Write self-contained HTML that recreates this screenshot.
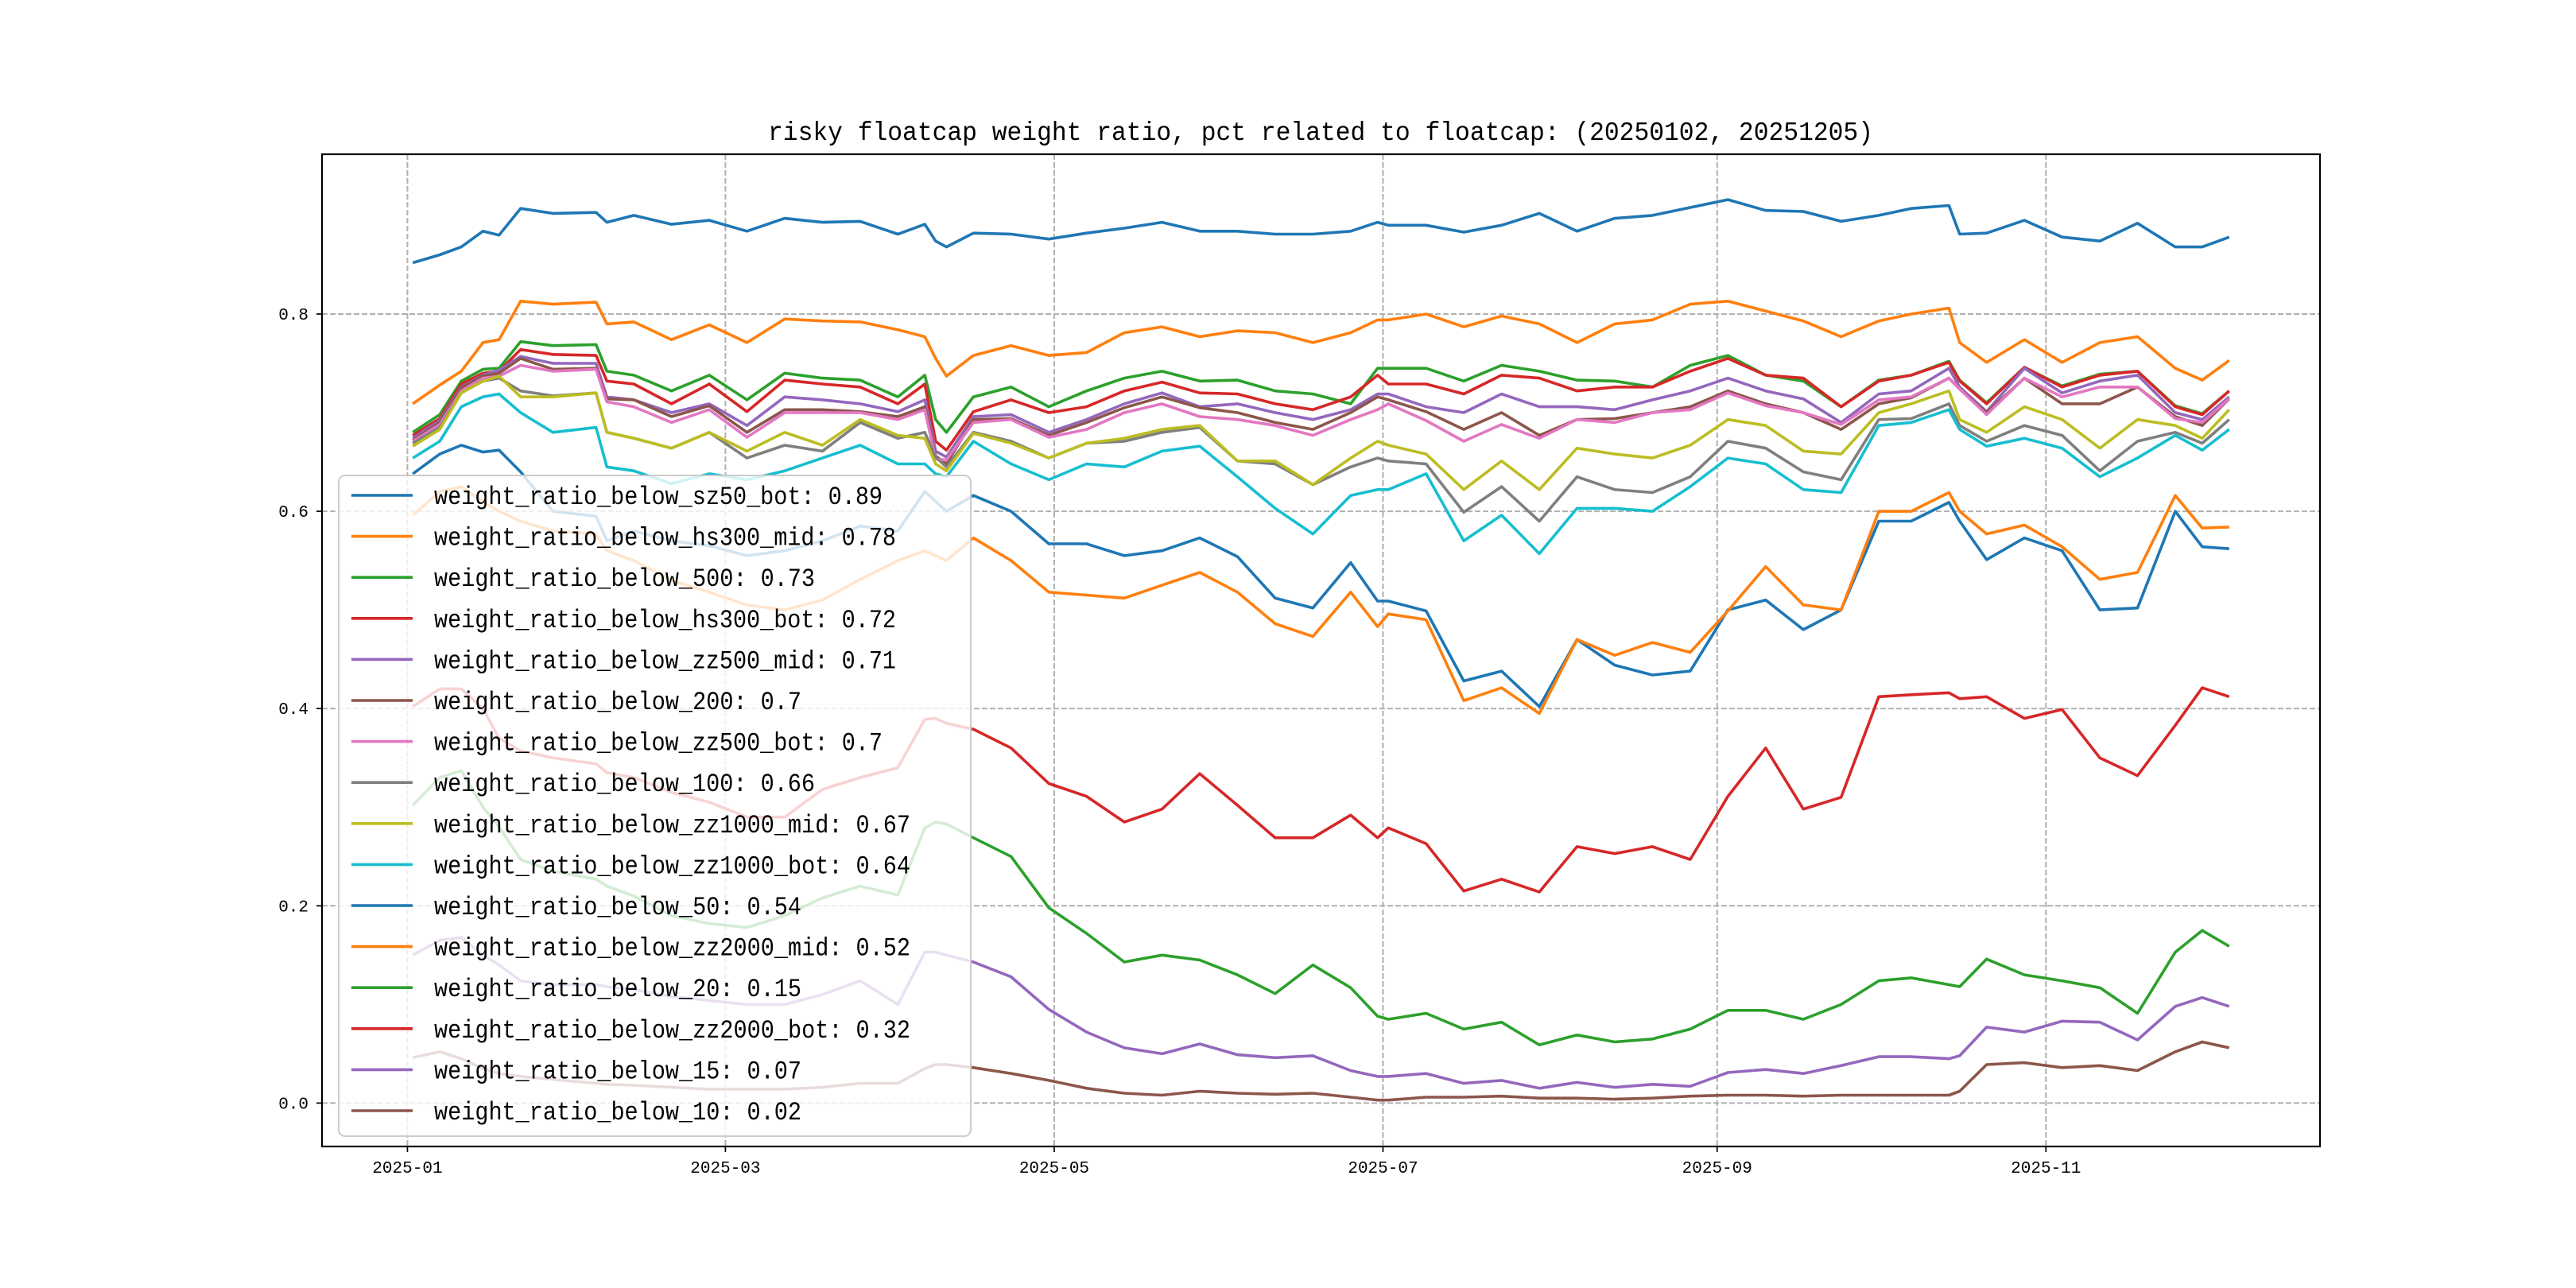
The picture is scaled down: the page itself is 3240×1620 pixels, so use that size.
<!DOCTYPE html>
<html><head><meta charset="utf-8"><title>risky floatcap weight ratio</title>
<style>
html,body{margin:0;padding:0;background:#fff;}
svg{display:block;}
text{font-family:"Liberation Mono","Noto Sans CJK SC",monospace;}
</style></head>
<body>
<svg id="chart" width="3240" height="1620" viewBox="0 0 3240 1620" xmlns="http://www.w3.org/2000/svg">
<rect x="0" y="0" width="3240" height="1620" fill="#fff"/>
<text x="1661" y="176" font-size="33" text-anchor="middle" textLength="1390" lengthAdjust="spacingAndGlyphs">risky floatcap weight ratio, pct related to floatcap: (20250102, 20251205)</text>
<g id="grid"></g>
<g id="series"></g>
<rect x="405" y="194" width="2513" height="1248" fill="none" stroke="#000" stroke-width="2.2"/>
<g id="ticks"></g>
<g id="legend"></g>
</svg>
<script>
// day offsets from 2025-01-01
const dates = [1,6,10,14,17,21,27,35,37,42, 49,56,63,70,77,84,91,96,98,100, 105,112,119,126,133,140,147,154,161,168, 175,180,182,189,196,203,210,217,224,231, 238,245,252,259,266,273,279,286,288,293, 300,307,314,321,328,333,338];
const seriesNames = ["weight_ratio_below_sz50_bot","weight_ratio_below_hs300_mid","weight_ratio_below_500","weight_ratio_below_hs300_bot","weight_ratio_below_zz500_mid","weight_ratio_below_200","weight_ratio_below_zz500_bot","weight_ratio_below_100","weight_ratio_below_zz1000_mid","weight_ratio_below_zz1000_bot","weight_ratio_below_50","weight_ratio_below_zz2000_mid","weight_ratio_below_20","weight_ratio_below_zz2000_bot","weight_ratio_below_15","weight_ratio_below_10"];
const legendValues = ["0.89","0.78","0.73","0.72","0.71","0.7","0.7","0.66","0.67","0.64","0.54","0.52","0.15","0.32","0.07","0.02"];
const colors = ["#1f77b4","#ff7f0e","#2ca02c","#d62728","#9467bd","#8c564b","#e377c2","#7f7f7f","#bcbd22","#17becf","#1f77b4","#ff7f0e","#2ca02c","#d62728","#9467bd","#8c564b"];
const sz50Bot = [.852,.86,.868,.884,.88,.907,.902,.903,.893,.9, .891,.895,.884,.897,.893,.894,.881,.891,.874,.868, .882,.881,.876,.882,.887,.893,.884,.884,.881,.881, .884,.893,.89,.89,.883,.89,.902,.884,.897,.9, .908,.916,.905,.904,.894,.9,.907,.91,.881,.882, .895,.878,.874,.892,.868,.868,.878];
const hs300Mid = [.709,.728,.742,.771,.774,.813,.81,.812,.79,.792, .774,.789,.771,.795,.793,.792,.784,.777,.755,.737, .758,.768,.758,.761,.781,.787,.777,.783,.781,.771, .781,.794,.794,.8,.787,.798,.79,.771,.79,.794, .81,.813,.803,.793,.777,.793,.8,.806,.771,.751, .774,.751,.771,.777,.745,.733,.753];
const below500 = [.68,.698,.732,.744,.745,.772,.768,.769,.742,.738, .722,.738,.713,.74,.735,.733,.716,.738,.693,.68, .716,.726,.706,.722,.735,.742,.732,.733,.722,.719, .709,.745,.745,.745,.732,.748,.742,.733,.732,.726, .748,.758,.738,.732,.706,.733,.738,.752,.733,.71, .746,.727,.739,.742,.707,.699,.722];
const hs300Bot = [.677,.694,.729,.74,.742,.764,.759,.758,.732,.729, .709,.729,.701,.733,.729,.726,.709,.729,.671,.662, .701,.713,.7,.706,.722,.731,.72,.719,.709,.703, .716,.738,.729,.729,.719,.738,.735,.722,.726,.726, .742,.755,.738,.735,.706,.732,.738,.751,.732,.709, .746,.726,.738,.742,.706,.698,.722];
const zz500Mid = [.674,.692,.726,.738,.743,.757,.75,.75,.716,.713, .7,.709,.687,.716,.713,.709,.701,.713,.661,.655, .696,.698,.68,.693,.709,.72,.706,.709,.7,.693, .703,.719,.719,.706,.7,.719,.706,.706,.703,.713, .722,.735,.722,.714,.69,.719,.722,.745,.726,.701, .745,.72,.732,.738,.7,.693,.716];
const below200 = [.672,.69,.725,.737,.74,.755,.744,.745,.714,.713, .696,.707,.68,.703,.703,.701,.696,.706,.656,.648, .693,.694,.677,.69,.705,.716,.705,.7,.69,.683, .7,.716,.713,.701,.683,.7,.677,.693,.694,.7, .706,.722,.709,.7,.683,.709,.715,.735,.724,.7, .735,.709,.709,.726,.696,.687,.714];
const zz500Bot = [.671,.688,.722,.735,.737,.748,.742,.744,.711,.706, .69,.703,.675,.7,.7,.7,.693,.703,.653,.652, .69,.693,.675,.683,.7,.709,.696,.693,.687,.677, .693,.703,.709,.692,.671,.688,.674,.693,.69,.7, .703,.72,.707,.7,.688,.713,.716,.735,.724,.698, .735,.716,.726,.726,.694,.69,.714];
const below100 = [.669,.685,.72,.732,.735,.722,.717,.72,.68,.674, .664,.68,.654,.667,.661,.69,.674,.68,.655,.645, .68,.671,.654,.669,.671,.68,.685,.651,.648,.627, .645,.654,.651,.648,.599,.625,.59,.635,.622,.619, .635,.671,.664,.64,.632,.693,.694,.709,.687,.671, .687,.677,.641,.671,.68,.669,.693];
const zz1000Mid = [.666,.683,.72,.732,.737,.716,.716,.72,.68,.674, .664,.68,.661,.68,.667,.693,.677,.674,.648,.641, .679,.669,.654,.669,.674,.683,.687,.651,.651,.627, .654,.671,.667,.658,.622,.651,.622,.664,.658,.654, .667,.693,.687,.661,.658,.7,.709,.722,.693,.68, .706,.693,.664,.693,.687,.674,.703];
const zz1000Bot = [.654,.671,.706,.716,.719,.7,.68,.685,.645,.641, .628,.638,.632,.641,.654,.667,.648,.648,.638,.635, .671,.648,.632,.648,.645,.661,.666,.635,.603,.577, .616,.622,.622,.638,.57,.596,.557,.603,.603,.6, .625,.654,.648,.622,.619,.687,.69,.703,.683,.666, .674,.664,.635,.654,.677,.662,.683];
const below50 = [.638,.658,.667,.66,.662,.64,.6,.595,.57,.58, .57,.565,.555,.56,.57,.585,.58,.62,.61,.6, .616,.6,.567,.567,.555,.56,.573,.554,.512,.502, .548,.509,.509,.499,.428,.438,.402,.47,.444,.434, .438,.5,.51,.48,.5,.59,.59,.609,.59,.551, .573,.56,.5,.502,.6,.564,.562];
const zz2000Mid = [.596,.62,.625,.61,.6,.59,.58,.577,.56,.55, .53,.518,.505,.5,.51,.531,.55,.56,.555,.55, .573,.55,.518,.515,.512,.525,.538,.518,.486,.473, .518,.483,.496,.49,.408,.421,.395,.47,.454,.467, .457,.499,.544,.505,.5,.6,.6,.619,.6,.577, .586,.564,.531,.538,.616,.583,.584];
const below20 = [.302,.33,.337,.3,.28,.247,.235,.227,.22,.21, .19,.182,.178,.19,.208,.22,.211,.279,.285,.283, .269,.25,.198,.172,.143,.15,.145,.13,.111,.14, .117,.088,.085,.091,.075,.082,.059,.069,.062,.065, .075,.094,.094,.085,.1,.124,.127,.12,.118,.146, .13,.124,.117,.091,.153,.175,.159];
const zz2000Bot = [.402,.42,.42,.4,.37,.357,.35,.344,.335,.33, .315,.305,.29,.29,.318,.33,.34,.389,.39,.385, .379,.36,.324,.311,.285,.298,.334,.302,.269,.269, .292,.269,.279,.263,.215,.227,.214,.26,.253,.26, .247,.311,.36,.298,.31,.412,.414,.416,.41,.412, .39,.399,.35,.332,.383,.421,.412];
const below15 = [.15,.165,.168,.15,.14,.124,.12,.12,.118,.115, .108,.104,.1,.1,.11,.124,.1,.153,.153,.15, .143,.128,.095,.072,.056,.05,.06,.049,.046,.048, .033,.027,.027,.03,.02,.023,.015,.021,.016,.019, .017,.031,.034,.03,.038,.047,.047,.045,.048,.077, .072,.083,.082,.064,.098,.107,.098];
const below10 = [.046,.052,.045,.035,.03,.027,.024,.02,.019,.018, .016,.014,.014,.014,.016,.02,.02,.035,.039,.039, .036,.03,.023,.015,.01,.008,.012,.01,.009,.01, .006,.003,.003,.006,.006,.007,.005,.005,.004,.005, .007,.008,.008,.007,.008,.008,.008,.008,.012,.039, .041,.036,.038,.033,.052,.062,.056];
const yTicks = [0, 0.2, 0.4, 0.6, 0.8];
const yTickLabels = ["0.0","0.2","0.4","0.6","0.8"];
const xTicks = [0, 59, 120, 181, 243, 304];
const xTickLabels = ["2025-01","2025-03","2025-05","2025-07","2025-09","2025-11"];

const allSeries = [sz50Bot,hs300Mid,below500,hs300Bot,zz500Mid,below200,zz500Bot,below100,zz1000Mid,zz1000Bot,below50,zz2000Mid,below20,zz2000Bot,below15,below10];

const NS = "http://www.w3.org/2000/svg";
const X0 = 405, X1 = 2918, Y0 = 194, Y1 = 1442;
const dMin = Math.min(...dates), dMax = Math.max(...dates);
const dPad = (dMax - dMin) * 0.05;
const xScale = d => X0 + (d - (dMin - dPad)) / ((dMax - dMin) + 2 * dPad) * (X1 - X0);
const vMin = -0.044, vMax = 0.962;
const yScale = v => Y1 - (v - vMin) / (vMax - vMin) * (Y1 - Y0);

function mk(tag, attrs) { const e = document.createElementNS(NS, tag); for (const k in attrs) e.setAttribute(k, attrs[k]); return e; }

const grid = document.getElementById('grid');
const ticks = document.getElementById('ticks');
yTicks.forEach((v, i) => {
  const y = yScale(v);
  const gl = mk('line', {x1: X0, x2: X1, y1: y, y2: y, stroke: '#b0b0b0', 'stroke-width': 2, 'stroke-dasharray': '7,3'});
  
  
  grid.appendChild(gl);
  const tk = mk('line', {x1: X0 - 7, x2: X0, y1: y, y2: y, stroke: '#000', 'stroke-width': 1.7});
  
  
  ticks.appendChild(tk);
  const t = mk('text', {x: X0 - 17, y: y + 7, 'font-size': 21, 'text-anchor': 'end'});
  
  
  t.textContent = yTickLabels[i];
  ticks.appendChild(t);
});
xTicks.forEach((d, i) => {
  const x = xScale(d);
  const gl = mk('line', {x1: x, x2: x, y1: Y0, y2: Y1, stroke: '#b0b0b0', 'stroke-width': 2, 'stroke-dasharray': '7,3'});
  
  
  grid.appendChild(gl);
  const tk = mk('line', {x1: x, x2: x, y1: Y1, y2: Y1 + 7, stroke: '#000', 'stroke-width': 1.7});
  
  
  ticks.appendChild(tk);
  const t = mk('text', {x: x, y: Y1 + 33, 'font-size': 21, 'text-anchor': 'middle'});
  
  
  t.textContent = xTickLabels[i];
  ticks.appendChild(t);
});

const sg = document.getElementById('series');
allSeries.forEach((vals, si) => {
  const pts = vals.map((v, i) => xScale(dates[i]).toFixed(1) + ',' + yScale(v).toFixed(1)).join(' ');
  const pl = mk('polyline', {points: pts, fill: 'none', stroke: colors[si], 'stroke-width': 3.6, 'stroke-linejoin': 'round'});
  
  
  sg.appendChild(pl);
});

const lg = document.getElementById('legend');
const box = mk('rect', {x: 426, y: 598, width: 795, height: 831, rx: 8, fill: '#fff', 'fill-opacity': 0.8, stroke: '#cccccc', 'stroke-width': 2});


lg.appendChild(box);
seriesNames.forEach((n, i) => {
  const y = 623 + i * 51.6;
  const ln = mk('line', {x1: 442, x2: 519, y1: y, y2: y, stroke: colors[i], 'stroke-width': 3.6});
  
  
  lg.appendChild(ln);
  const label = n + ': ' + legendValues[i];
  const t = mk('text', {x: 546, y: y + 11, 'font-size': 32, textLength: (label.length * 17.1).toFixed(0), lengthAdjust: 'spacingAndGlyphs'});
  
  
  t.textContent = label;
  lg.appendChild(t);
});
</script>
</body></html>
